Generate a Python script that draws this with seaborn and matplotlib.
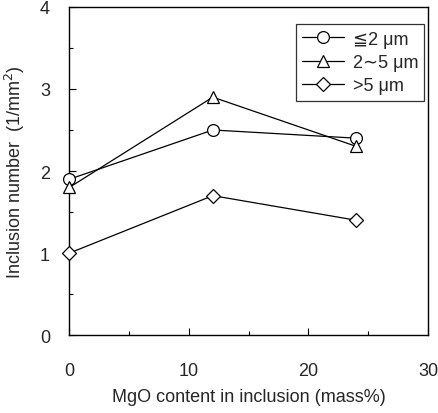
import pandas as pd
import seaborn as sns
import matplotlib.pyplot as plt

MGO = [0, 12, 24]
SMALL = [1.9, 2.5, 2.4]     # <=2 um
MEDIUM = [1.8, 2.9, 2.3]    # 2~5 um
LARGE = [1.0, 1.7, 1.4]     # >5 um
LABELS = ["≦2 μm", "2∼5 μm", ">5 μm"]
MARKERS = ["o", "^", "D"]

sns.set_style("ticks")
plt.rcParams['font.family'] = ['Liberation Sans', 'DejaVu Sans']

df = pd.DataFrame({"mgo": MGO * 3,
                   "number": SMALL + MEDIUM + LARGE,
                   "size": [l for l in LABELS for _ in MGO]})

fig = plt.figure(figsize=(4.39, 4.14), dpi=100)
ax = fig.add_axes([0.158, 0.188, 0.817, 0.793])

for lab, m in zip(LABELS, MARKERS):
    sub = df[df["size"] == lab]
    sns.lineplot(data=sub, x="mgo", y="number", marker=m, color="black",
                 markerfacecolor="white", markeredgecolor="black",
                 markersize=7 if m == "D" else 8.5, markeredgewidth=0.9,
                 linewidth=0.9, label=lab, ax=ax, clip_on=False, zorder=3)

ax.set_xlim(0, 30)
ax.set_ylim(0, 4)
ax.set_xticks([0, 10, 20, 30])
ax.set_xticks([5, 15, 25], minor=True)
ax.set_yticks([0, 1, 2, 3, 4])
ax.set_yticks([0.5, 1.5, 2.5, 3.5], minor=True)
ax.tick_params(which="both", direction="in", color="black", width=0.8)
ax.tick_params(which="major", length=5, labelsize=13)
ax.tick_params(which="minor", length=3)
ax.tick_params(axis="x", which="major", pad=19)
ax.tick_params(axis="y", which="major", pad=14)
for s in ax.spines.values():
    s.set_color("black")
    s.set_linewidth(1.0)

ax.set_xlabel("MgO content in inclusion (mass%)", fontsize=13, labelpad=7)
ax.set_ylabel("Inclusion number  (1/mm$^2$)", fontsize=13, labelpad=9)

leg = ax.legend(loc="upper right", bbox_to_anchor=(1.0, 0.958), fontsize=13,
                frameon=True, fancybox=False, edgecolor="black",
                handlelength=2.3, handletextpad=0.5, borderpad=0.35,
                labelspacing=0.35, borderaxespad=0.2)
leg.get_frame().set_linewidth(0.9)

fig.savefig("out.png", dpi=100)
